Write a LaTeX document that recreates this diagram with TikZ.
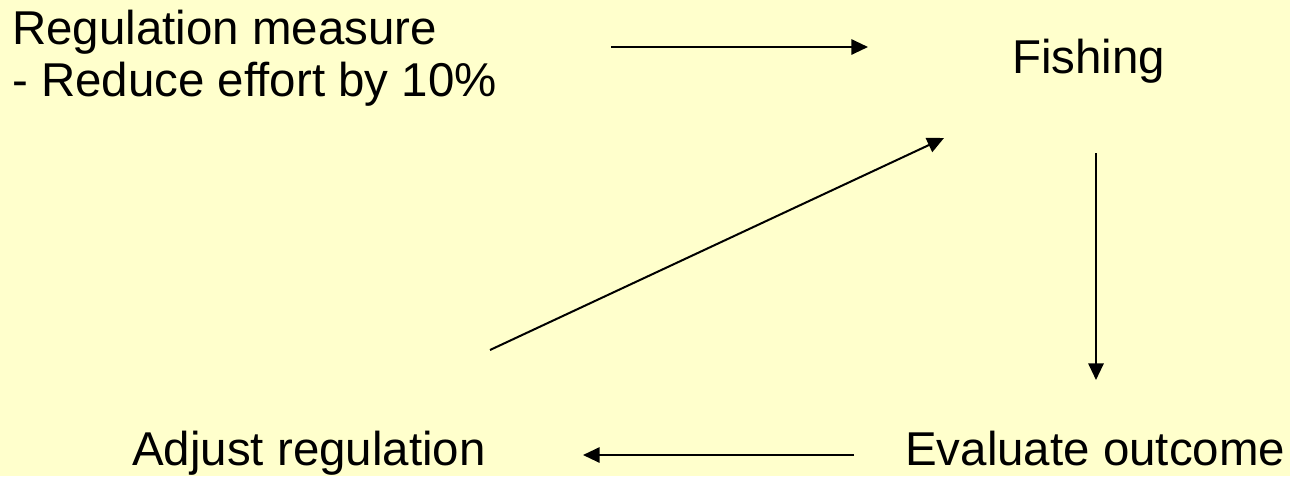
\documentclass[tikz,border=0pt]{standalone}
\usepackage{fontspec}
\setmainfont{Liberation Sans}
\usetikzlibrary{arrows.meta}
\definecolor{bgcol}{HTML}{FFFFCC}
\tikzset{
  lbl/.style={anchor=base west, inner sep=0pt, font=\fontsize{35.6}{40}\selectfont, text=black},
  conn/.style={line width=1.5pt, draw=black, -{Triangle[length=12.5pt,width=11.5pt]}}
}
\begin{document}
\begin{tikzpicture}[x=0.75pt,y=-0.75pt]
\fill[bgcol] (0,0) rectangle (1290,476);
\useasboundingbox (0,0) rectangle (1290,476);
\node[lbl] (reg1) at (12,44) {Regulation measure};
\node[lbl] (reg2) at (12,96) {- Reduce effort by 10\%};
\node[lbl] (fish) at (1012,73) {Fishing};
\node[lbl] (eval) at (905,465) {Evaluate outcome};
\node[lbl] (adj) at (132,465) {Adjust regulation};
\coordinate (a1s) at (611,47);
\coordinate (a1e) at (868,47);
\coordinate (a2s) at (1096,153);
\coordinate (a2e) at (1096,380);
\coordinate (a3s) at (854,455);
\coordinate (a3e) at (583,455);
\coordinate (a4s) at (490,350);
\coordinate (a4e) at (944,138);
\draw[conn] (a1s) -- (a1e);
\draw[conn] (a2s) -- (a2e);
\draw[conn] (a3s) -- (a3e);
\draw[conn] (a4s) -- (a4e);
\end{tikzpicture}
\end{document}
